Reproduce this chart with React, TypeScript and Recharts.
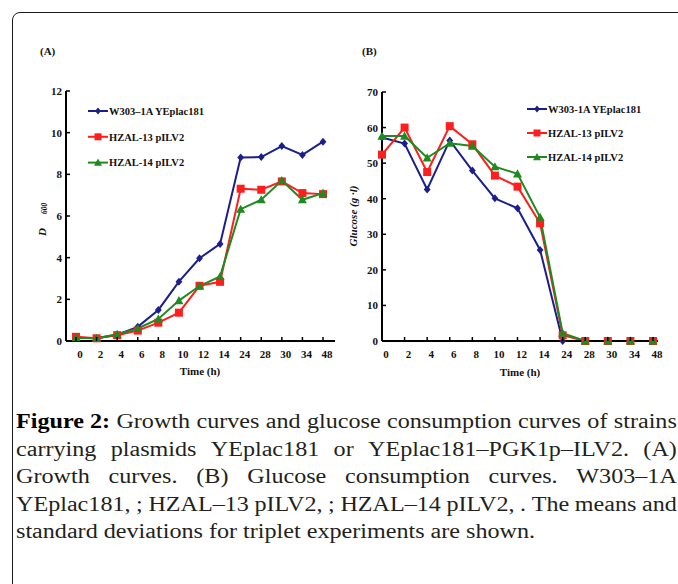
import React from 'react';
import { LineChart, Line, XAxis, YAxis, Legend } from 'recharts';

// sampling times (h), shared by both panels
const times = ['0', '2', '4', '6', '8', '10', '12', '14', '24', '28', '30', '34', '48'];

// (A) growth, OD600
const growthW303 = [0.15, 0.13, 0.3, 0.68, 1.49, 2.85, 3.97, 4.66, 8.81, 8.83, 9.36, 8.93, 9.57];
const growthHzal13 = [0.2, 0.13, 0.28, 0.5, 0.88, 1.36, 2.65, 2.84, 7.31, 7.26, 7.66, 7.1, 7.05];
const growthHzal14 = [0.16, 0.13, 0.32, 0.6, 1.06, 1.94, 2.64, 3.1, 6.33, 6.78, 7.7, 6.78, 7.1];

// (B) residual glucose, g/l
const glucoseW303 = [57.2, 55.5, 42.6, 56.4, 47.9, 40.1, 37.3, 25.6, 0, 0, 0, 0, 0];
const glucoseHzal13 = [52.4, 60, 47.5, 60.4, 55.3, 46.5, 43.4, 33.1, 1.6, 0, 0, 0, 0];
const glucoseHzal14 = [57.6, 57.6, 51.5, 55.6, 54.8, 49, 47, 34.8, 2.2, 0, 0, 0, 0];

const odTicks = [0, 2, 4, 6, 8, 10, 12];
const glucoseTicks = [0, 10, 20, 30, 40, 50, 60, 70];

const seriesKeys = ['w303', 'hzal13', 'hzal14'];
const namesA = ['W303\u20131A YEplac181', 'HZAL-13 pILV2', 'HZAL-14 pILV2'];
const namesB = ['W303-1A YEplac181', 'HZAL-13 pILV2', 'HZAL-14 pILV2'];

const captionLines = [
  ['Figure 2:', 'Growth', 'curves', 'and', 'glucose', 'consumption', 'curves', 'of', 'strains'],
  ['carrying', 'plasmids', 'YEplac181', 'or', 'YEplac181\u2013PGK1p\u2013ILV2.', '(A)'],
  ['Growth', 'curves.', '(B)', 'Glucose', 'consumption', 'curves.', 'W303\u20131A'],
  ['YEplac181,', ';', 'HZAL\u201313', 'pILV2,', ';', 'HZAL\u201314', 'pILV2,', '.', 'The', 'means', 'and'],
];
const captionLast = 'standard deviations for triplet experiments are shown.';

const growthRows = times.map((t, i) => ({
  time: t,
  w303: growthW303[i],
  hzal13: growthHzal13[i],
  hzal14: growthHzal14[i],
}));

const glucoseRows = times.map((t, i) => ({
  time: t,
  w303: glucoseW303[i],
  hzal13: glucoseHzal13[i],
  hzal14: glucoseHzal14[i],
}));

const styles: Record<string, { color: string; shape: string }> = {
  w303: { color: '#1b1f8a', shape: 'diamond' },
  hzal13: { color: '#ff1e1e', shape: 'square' },
  hzal14: { color: '#1f8a1f', shape: 'triangle' },
};

const serif = '"Liberation Serif", "Times New Roman", serif';

function Marker({ cx, cy, shape, color, size = 4 }: any) {
  if (cx == null || cy == null) return null;
  if (shape === 'diamond') {
    const s = size;
    return <path d={`M${cx},${cy - s} L${cx + s * 0.85},${cy} L${cx},${cy + s} L${cx - s * 0.85},${cy} Z`} fill={color} />;
  }
  if (shape === 'square') {
    return <rect x={cx - size} y={cy - size} width={size * 2} height={size * 2} fill={color} />;
  }
  const s = size + 0.5;
  return <path d={`M${cx},${cy - s} L${cx + s},${cy + s * 0.8} L${cx - s},${cy + s * 0.8} Z`} fill={color} />;
}

const makeDot = (key: string) => (p: any) => (
  <Marker key={`${key}-${p.index}`} cx={p.cx} cy={p.cy} shape={styles[key].shape} color={styles[key].color} />
);

const YTick = ({ x, y, payload }: any) => (
  <g>
    <line x1={x} x2={x + 4} y1={y} y2={y} stroke="#000" strokeWidth={1.5} />
    <text x={x - 4} y={y + 4} textAnchor="end" fontSize={11} fontWeight="bold" fontFamily={serif} fill="#111">
      {payload.value}
    </text>
  </g>
);

const XTick = ({ x, y, payload }: any) => (
  <g>
    <line x1={x} x2={x} y1={y} y2={y - 4} stroke="#000" strokeWidth={1.5} />
    <text x={x + 4} y={y + 17} textAnchor="middle" fontSize={11} fontWeight="bold" fontFamily={serif} fill="#111">
      {payload.value}
    </text>
  </g>
);

// legend keeps series order (recharts sorts by name otherwise)
const makeLegend = (gap: number) => (props: any) => {
  const items = [...(props.payload || [])].sort(
    (a: any, b: any) => seriesKeys.indexOf(a.dataKey) - seriesKeys.indexOf(b.dataKey)
  );
  return (
    <svg width={170} height={70}>
      {items.map((entry: any, i: number) => {
        const st = styles[entry.dataKey];
        return (
          <g key={entry.dataKey} transform={`translate(0, ${8 + i * gap})`}>
            <line x1={0} x2={20} y1={0} y2={0} stroke={st.color} strokeWidth={2} />
            <Marker cx={10} cy={0} shape={st.shape} color={st.color} size={3.5} />
            <text x={21} y={3.7} fontSize={10.5} fontWeight="bold" fontFamily={serif} fill="#111">
              {entry.value}
            </text>
          </g>
        );
      })}
    </svg>
  );
};

const axisLine = { stroke: '#000', strokeWidth: 2 };

function Panel({ data, names, ticks, domain, width, margin, padding, legendPos, legendGap }: any) {
  return (
    <LineChart width={width} height={400} data={data} margin={margin}>
      <XAxis
        dataKey="time"
        interval={0}
        padding={padding}
        height={30}
        tickSize={0}
        tickMargin={0}
        tickLine={false}
        axisLine={axisLine}
        tick={<XTick />}
      />
      <YAxis
        type="number"
        domain={domain}
        ticks={ticks}
        interval={0}
        width={30}
        tickSize={0}
        tickMargin={0}
        tickLine={false}
        axisLine={axisLine}
        tick={<YTick />}
      />
      <Legend
        layout="vertical"
        align="center"
        verticalAlign="middle"
        wrapperStyle={{ left: legendPos[0], top: legendPos[1], width: 170, height: 70 }}
        content={makeLegend(legendGap)}
      />
      {seriesKeys.map((k, i) => (
        <Line
          key={k}
          type="linear"
          dataKey={k}
          name={names[i]}
          stroke={styles[k].color}
          strokeWidth={2}
          dot={makeDot(k)}
          activeDot={false}
          isAnimationActive={false}
        />
      ))}
    </LineChart>
  );
}

export default function App() {
  const txt = { fontFamily: serif, fontWeight: 'bold' as const, fill: '#111' };
  return (
    <div style={{ position: 'absolute', left: 0, top: 0, width: 678, height: 584, overflow: 'hidden', background: '#fff' }}>
      <div
        style={{
          position: 'absolute',
          left: 12,
          top: 12,
          width: 720,
          height: 640,
          border: '1.5px solid #1a1a1a',
          borderTopLeftRadius: 8,
          boxSizing: 'border-box',
        }}
      />
      <div style={{ position: 'absolute', left: 0, top: 0 }}>
        <Panel
          data={growthRows}
          names={namesA}
          ticks={odTicks}
          domain={[0, 12]}
          width={340}
          margin={{ top: 91, right: 5, bottom: 29, left: 36 }}
          padding={{ left: 10, right: 12 }}
          legendPos={[88, 102.7]}
          legendGap={25.8}
        />
      </div>
      <div style={{ position: 'absolute', left: 330, top: 0 }}>
        <Panel
          data={glucoseRows}
          names={namesB}
          ticks={glucoseTicks}
          domain={[0, 70]}
          width={348}
          margin={{ top: 92, right: 20, bottom: 29, left: 22 }}
          padding={{ left: 0, right: 5 }}
          legendPos={[197, 100.7]}
          legendGap={24}
        />
      </div>
      <svg width={678} height={400} style={{ position: 'absolute', left: 0, top: 0, pointerEvents: 'none' }}>
        <text x={40} y={55} fontSize={11} {...txt}>(A)</text>
        <text x={362} y={55} fontSize={11} {...txt}>(B)</text>
        <text x={200} y={375} fontSize={11} textAnchor="middle" {...txt}>Time (h)</text>
        <text x={520} y={376} fontSize={11} textAnchor="middle" {...txt}>Time (h)</text>
        <text transform="translate(45.5,236) rotate(-90)" fontSize={11} fontStyle="italic" {...txt}>
          D<tspan dx={14} dy={1} fontSize={7.5}>600</tspan>
        </text>
        <text transform="translate(357,216) rotate(-90)" fontSize={11} fontStyle="italic" textAnchor="middle" {...txt}>
          Glucose (g ·l)
        </text>
      </svg>
      <div
        style={{
          position: 'absolute',
          left: 16,
          top: 408,
          width: 548,
          transform: 'scaleX(1.206)',
          transformOrigin: '0 0',
          fontFamily: serif,
          fontSize: 20,
          lineHeight: '27.5px',
          color: '#231f20',
        }}
      >
        {captionLines.map((words, i) => (
          <div key={i} style={{ display: 'flex', justifyContent: 'space-between', whiteSpace: 'nowrap' }}>
            {words.map((w, j) => (
              <span key={j} style={i === 0 && j === 0 ? { fontWeight: 'bold', color: '#000' } : undefined}>
                {w}
              </span>
            ))}
          </div>
        ))}
        <div style={{ whiteSpace: 'nowrap' }}>{captionLast}</div>
      </div>
    </div>
  );
}
